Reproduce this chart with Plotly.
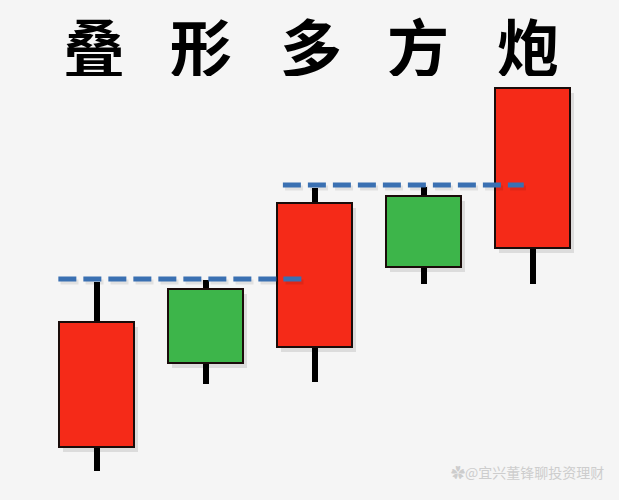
import plotly.graph_objects as go

# ---- data ----
title_chars = ["叠", "形", "多", "方", "炮"]
candles_x = [1, 2, 3, 4, 5]
opens = [5.3, 21.1, 15.3, 30.4, 25.2]
closes = [17.8, 13.7, 29.7, 23.3, 41.2]
highs = [21.8, 22.0, 31.2, 31.3, 41.2]
lows = [2.9, 11.6, 11.8, 21.6, 21.6]
level_values = [22.1, 31.5]
level_starts = [0.65, 2.71]
level_ends = [2.89, 4.92]
watermark = "✿@宜兴董锋聊投资理财"

RED = "#f52a18"
GREEN = "#3db54a"
EDGE = "#1a0c0a"

W, H = 619, 500
ML, MR = 42, 32
PW = W - ML - MR

def px_to_paper_x(px):
    return (px - ML) / PW

fig = go.Figure()

body_base = [min(o, c) for o, c in zip(opens, closes)]
body_len = [abs(c - o) for o, c in zip(opens, closes)]
body_col = [RED if c >= o else GREEN for o, c in zip(opens, closes)]

# soft shadows behind bodies
fig.add_trace(go.Bar(
    x=[v + 0.04 for v in candles_x], y=body_len, base=[b - 0.5 for b in body_base],
    width=0.69, marker=dict(color="rgba(0,0,0,0.10)", line=dict(width=0)),
    hoverinfo="skip", showlegend=False))

# wicks
fig.add_trace(go.Bar(
    x=candles_x, y=[h - l for h, l in zip(highs, lows)], base=lows,
    width=0.055, marker=dict(color="#000000", line=dict(width=0)),
    showlegend=False, hoverinfo="skip"))

# bodies
fig.add_trace(go.Bar(
    x=candles_x, y=body_len, base=body_base, width=0.69,
    marker=dict(color=body_col, line=dict(color=EDGE, width=2)),
    showlegend=False))

# dashed resistance levels
for v, s, e in zip(level_values, level_starts, level_ends):
    fig.add_trace(go.Scatter(
        x=[s + 0.02, e + 0.02], y=[v - 0.3, v - 0.3], mode="lines",
        line=dict(color="rgba(0,0,0,0.08)", width=5, dash="18px,7px"),
        showlegend=False, hoverinfo="skip"))
    fig.add_trace(go.Scatter(
        x=[s, e], y=[v, v], mode="lines",
        line=dict(color="#3a70b2", width=5, dash="18px,7px"),
        showlegend=False, hoverinfo="skip"))

# title characters (spread out like the reference)
title_centers = [94, 201, 311, 418, 528]
for ch, cx in zip(title_chars, title_centers):
    fig.add_annotation(
        text=ch, xref="paper", yref="paper", x=px_to_paper_x(cx), y=(H - 13) / H,
        xanchor="center", yanchor="top", height=62, valign="middle",
        borderpad=0, showarrow=False,
        font=dict(family="Noto Sans CJK SC", size=62, color="#000000", weight=700))

fig.add_annotation(
    text=watermark, xref="paper", yref="paper", x=px_to_paper_x(606), y=(H - 472) / H,
    xanchor="right", yanchor="middle", showarrow=False,
    font=dict(family="Noto Sans CJK SC", size=14, color="#cdcdcd"))

fig.update_layout(
    width=W, height=H,
    margin=dict(l=ML, r=MR, t=0, b=0),
    paper_bgcolor="#f5f5f5", plot_bgcolor="#f5f5f5",
    barmode="overlay", bargap=0,
    xaxis=dict(range=[0.5, 5.5], visible=False, fixedrange=True),
    yaxis=dict(range=[0, 50], visible=False, fixedrange=True),
    showlegend=False,
)

fig.write_html("out.html", config={"displayModeBar": False},
               post_script="document.body.style.margin='0';")
